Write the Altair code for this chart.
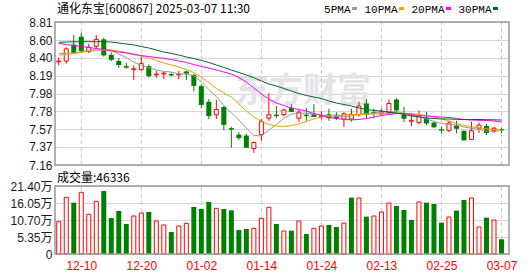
import altair as alt
import pandas as pd

# ---------------- data ----------------
stock_name = "通化东宝"
stock_code = "600867"
quote_time = "2025-03-07 11:30"
watermark = "东方财富"

dates = ["12-05", "12-06", "12-09", "12-10", "12-11", "12-12", "12-13", "12-16", "12-17", "12-18",
         "12-19", "12-20", "12-23", "12-24", "12-25", "12-26", "12-27", "12-30", "12-31", "01-02",
         "01-03", "01-06", "01-07", "01-08", "01-09", "01-10", "01-13", "01-14", "01-15", "01-16",
         "01-17", "01-20", "01-21", "01-22", "01-23", "01-24", "01-27", "02-05", "02-06", "02-07",
         "02-10", "02-11", "02-12", "02-13", "02-14", "02-17", "02-18", "02-19", "02-20", "02-21",
         "02-24", "02-25", "02-26", "02-27", "02-28", "03-03", "03-04", "03-05", "03-06", "03-07"]

opens = [8.35, 8.36, 8.55, 8.64, 8.47, 8.53, 8.61, 8.43, 8.36, 8.30,
         8.26, 8.26, 8.30, 8.20, 8.21, 8.21, 8.20, 8.24, 8.20, 8.07,
         7.89, 7.74, 7.83, 7.585, 7.51, 7.50, 7.35, 7.51, 7.70, 7.74,
         7.74, 7.82, 7.70, 7.74, 7.745, 7.72, 7.745, 7.74, 7.69, 7.69,
         7.74, 7.87, 7.77, 7.75, 7.765, 7.915, 7.74, 7.665, 7.65, 7.70,
         7.65, 7.57, 7.56, 7.615, 7.555, 7.455, 7.585, 7.61, 7.555, 7.57]
highs = [8.40, 8.52, 8.66, 8.69, 8.56, 8.66, 8.63, 8.46, 8.39, 8.34,
         8.31, 8.41, 8.32, 8.245, 8.24, 8.23, 8.245, 8.25, 8.21, 8.09,
         7.92, 7.91, 7.84, 7.60, 7.54, 7.52, 7.43, 7.69, 7.99, 7.84,
         7.81, 7.86, 7.81, 7.82, 7.86, 7.78, 7.81, 7.77, 7.77, 7.81,
         7.89, 7.92, 7.81, 7.81, 7.915, 7.93, 7.83, 7.76, 7.79, 7.775,
         7.66, 7.60, 7.67, 7.67, 7.56, 7.66, 7.65, 7.635, 7.60, 7.59]
lows = [8.31, 8.33, 8.44, 8.46, 8.45, 8.50, 8.41, 8.36, 8.28, 8.27,
        8.14, 8.25, 8.17, 8.165, 8.15, 8.18, 8.15, 8.14, 8.01, 7.82,
        7.69, 7.69, 7.56, 7.36, 7.45, 7.36, 7.30, 7.44, 7.67, 7.70,
        7.72, 7.77, 7.655, 7.67, 7.71, 7.69, 7.67, 7.68, 7.60, 7.66,
        7.72, 7.70, 7.70, 7.74, 7.75, 7.755, 7.655, 7.61, 7.63, 7.62,
        7.59, 7.525, 7.54, 7.525, 7.44, 7.45, 7.53, 7.505, 7.53, 7.53]
closes = [8.36, 8.50, 8.46, 8.48, 8.52, 8.61, 8.43, 8.38, 8.32, 8.29,
          8.27, 8.33, 8.19, 8.21, 8.22, 8.20, 8.21, 8.22, 8.08, 7.86,
          7.73, 7.80, 7.63, 7.575, 7.475, 7.365, 7.42, 7.66, 7.74, 7.73,
          7.795, 7.78, 7.77, 7.73, 7.72, 7.73, 7.705, 7.70, 7.75, 7.745,
          7.84, 7.745, 7.765, 7.775, 7.87, 7.795, 7.70, 7.675, 7.725, 7.645,
          7.60, 7.563, 7.645, 7.585, 7.45, 7.555, 7.62, 7.535, 7.585, 7.565]

# volume in 万 shares
vols = [10.17, 17.84, 16.15, 19.41, 12.5, 16.57, 19.83, 11.33, 13.53, 9.44,
        11.96, 12.9, 13.22, 10.39, 9.13, 6.92, 8.81, 9.65, 14.79, 14.16,
        16.36, 14.37, 14.16, 13.74, 7.55, 7.87, 8.08, 11.22, 14.7, 9.44,
        7.24, 7.34, 10.39, 6.29, 8.08, 8.81, 9.13, 8.5, 9.76, 17.73,
        17.62, 11.75, 11.96, 13.22, 16.05, 15.11, 13.85, 10.7, 16.36, 16.15,
        15.74, 9.86, 11.64, 13.64, 17.0, 17.62, 8.5, 11.43, 10.7, 4.6336]
# 1 = volume bar drawn as a rise (red), 0 = fall (green)
vol_rise = [1, 1, 0, 1, 1, 1, 0, 0, 0, 0,
            1, 1, 0, 1, 1, 0, 1, 1, 0, 0,
            0, 1, 0, 0, 0, 0, 1, 1, 1, 0,
            1, 0, 1, 0, 1, 1, 0, 0, 1, 0,
            1, 0, 1, 1, 1, 0, 0, 0, 1, 0,
            0, 0, 1, 0, 0, 1, 1, 0, 1, 0]

ma5 = [8.449, 8.449, 8.452, 8.464, 8.487, 8.487, 8.487, 8.485, 8.44, 8.40,
       8.345, 8.31, 8.28, 8.256, 8.24, 8.233, 8.21, 8.21, 8.19, 8.12,
       8.03, 7.95, 7.85, 7.76, 7.68, 7.585, 7.50, 7.495, 7.564, 7.627,
       7.697, 7.748, 7.757, 7.757, 7.748, 7.737, 7.731, 7.72, 7.72, 7.725,
       7.743, 7.754, 7.76, 7.766, 7.775, 7.775, 7.76, 7.737, 7.72, 7.691,
       7.662, 7.639, 7.627, 7.622, 7.598, 7.583, 7.57, 7.552, 7.547, 7.558]
ma10 = [8.429, 8.435, 8.447, 8.458, 8.475, 8.487, 8.487, 8.487, 8.475, 8.458,
        8.441, 8.418, 8.395, 8.366, 8.337, 8.314, 8.291, 8.262, 8.227, 8.175,
        8.112, 8.043, 7.991, 7.945, 7.864, 7.783, 7.714, 7.662, 7.627, 7.61,
        7.604, 7.616, 7.633, 7.662, 7.691, 7.714, 7.722, 7.731, 7.737, 7.74,
        7.743, 7.746, 7.748, 7.751, 7.754, 7.757, 7.757, 7.754, 7.743, 7.731,
        7.714, 7.697, 7.668, 7.639, 7.616, 7.598, 7.587, 7.578, 7.57, 7.564]
ma20 = [8.564, 8.55, 8.539, 8.527, 8.516, 8.504, 8.493, 8.475, 8.464, 8.452,
        8.435, 8.423, 8.412, 8.40, 8.391, 8.377, 8.36, 8.343, 8.32, 8.297,
        8.279, 8.256, 8.233, 8.21, 8.17, 8.118, 8.048, 7.979, 7.921, 7.875,
        7.847, 7.818, 7.80, 7.783, 7.754, 7.731, 7.708, 7.697, 7.685, 7.681,
        7.685, 7.697, 7.714, 7.731, 7.743, 7.754, 7.754, 7.743, 7.731, 7.725,
        7.72, 7.714, 7.708, 7.697, 7.685, 7.679, 7.676, 7.673, 7.668, 7.656]
ma30 = [8.576, 8.579, 8.581, 8.583, 8.583, 8.583, 8.583, 8.579, 8.568, 8.556,
        8.545, 8.527, 8.51, 8.487, 8.464, 8.447, 8.429, 8.406, 8.389, 8.366,
        8.343, 8.314, 8.285, 8.256, 8.227, 8.198, 8.167, 8.129, 8.095, 8.072,
        8.043, 8.014, 7.985, 7.962, 7.945, 7.927, 7.898, 7.875, 7.858, 7.841,
        7.818, 7.80, 7.789, 7.783, 7.771, 7.76, 7.743, 7.725, 7.714, 7.702,
        7.697, 7.691, 7.691, 7.687, 7.685, 7.685, 7.685, 7.683, 7.681, 7.679]

ma_names = ["5PMA", "10PMA", "20PMA", "30PMA"]
price_ticks = [7.16, 7.37, 7.57, 7.78, 7.98, 8.19, 8.40, 8.60, 8.81]
vol_ticks = [0, 5.35, 10.70, 16.05, 21.40]
x_labels = ["12-10", "12-20", "01-02", "01-14", "01-24", "02-13", "02-25", "03-07"]

# ---------------- styling / layout ----------------
RED, GREEN = "#ff0000", "#008000"
MA_COLORS = ["#9a9a9a", "#f0a000", "#ff00ff", "#006633"]
W, H = 454, 232
PRICE_H = 143
VOL_TOP, VOL_BOT = 164, 232
n = len(dates)
X_MIN, X_MAX = -0.5, float(n)
HALF_DOWN, HALF_UP = 0.333, 0.267
FRAME = "#999999"

df = pd.DataFrame({
    "i": list(range(n)), "date": dates, "open": opens, "high": highs, "low": lows,
    "close": closes, "vol": vols, "rise": vol_rise,
    "ma5": ma5, "ma10": ma10, "ma20": ma20, "ma30": ma30,
})
df["zero"] = 0.0

label_pos = [dates.index(d) for d in x_labels]
date_expr = "[" + ",".join("'%s'" % d for d in dates) + "][datum.value]"

xscale = alt.Scale(domain=[X_MIN, X_MAX], nice=False, zero=False)
xaxis = alt.Axis(values=label_pos, labelExpr=date_expr, grid=False, ticks=False, tickSize=0,
                 domain=False, labelColor=RED, labelFont="Liberation Sans", labelFontSize=12,
                 labelPadding=6, title=None, orient="bottom", labelOverlap=False, labelFlush=False)

pscale = alt.Scale(domain=[price_ticks[0], price_ticks[-1]], range=[PRICE_H, 0], nice=False, zero=False)
paxis = alt.Axis(values=price_ticks, format=".2f", orient="left", grid=True, gridColor="#d6d6d6",
                 gridWidth=1, ticks=False, tickSize=0, domain=False, labelFont="Liberation Sans",
                 labelFontSize=12, labelColor="#1a1a1a", labelPadding=3, title=None,
                 labelOverlap=False, labelFlush=False)

vscale = alt.Scale(domain=[vol_ticks[0], vol_ticks[-1]], range=[VOL_BOT, VOL_TOP], nice=False, zero=False)
vaxis = alt.Axis(values=vol_ticks, labelExpr="datum.value == 0 ? '0' : format(datum.value, '.2f') + '万'",
                 orient="left", grid=True, gridColor="#d6d6d6", gridWidth=1, ticks=False, tickSize=0,
                 domain=False, labelFont="Liberation Sans, Noto Sans CJK SC", labelFontSize=12,
                 labelColor="#1a1a1a", labelPadding=3, title=None, labelOverlap=False, labelFlush=False)


def X(f):
    return alt.X(f, type="quantitative", scale=xscale, axis=xaxis)


def YP(f):
    return alt.Y(f, type="quantitative", scale=pscale, axis=paxis)


def YV(f):
    return alt.Y(f, type="quantitative", scale=vscale, axis=vaxis)


base = alt.Chart(df)
grid_df = pd.DataFrame({"pos": label_pos, "plo": price_ticks[0], "phi": price_ticks[-1],
                        "vlo": vol_ticks[0], "vhi": vol_ticks[-1]})
frame_df = pd.DataFrame({"x0": [X_MIN], "x1": [X_MAX], "plo": [price_ticks[0]], "phi": [price_ticks[-1]],
                         "vlo": [vol_ticks[0]], "vhi": [vol_ticks[-1]]})

# ---------------- price panel ----------------
wm = alt.Chart(pd.DataFrame({"t": [watermark]})).mark_text(
    font="Noto Sans CJK SC", fontSize=34, fontWeight="bold", color="#e4e4e8",
    align="center", baseline="middle").encode(x=alt.value(248), y=alt.value(70), text="t:N")

p_vgrid = alt.Chart(grid_df).mark_rule(color="#c8c8c8", strokeDash=[4, 3], strokeWidth=1).encode(
    x=X("pos"), y=YP("plo"), y2="phi")

wicks = base.mark_rule(strokeWidth=1).encode(
    x=X("i"), y=YP("low"), y2="high",
    color=alt.condition("datum.close > datum.open", alt.value(RED), alt.value(GREEN)))

down_src = base.transform_filter("datum.close < datum.open").transform_calculate(
    xl="datum.i - %f" % HALF_DOWN, xr="datum.i + %f" % HALF_DOWN)
down_body = down_src.mark_rect(color=GREEN).encode(x=X("xl"), x2="xr", y=YP("open"), y2="close")
down_line = down_src.mark_rule(color=GREEN, strokeWidth=1).encode(x=X("xl"), x2="xr", y=YP("close"))

up_body = base.transform_filter("datum.close > datum.open").transform_calculate(
    xl="datum.i - %f" % HALF_UP, xr="datum.i + %f" % HALF_UP).mark_rect(
    fill="white", stroke=RED, strokeWidth=1).encode(x=X("xl"), x2="xr", y=YP("open"), y2="close")

ma_layers = [base.mark_line(color=c, strokeWidth=1).encode(x=X("i"), y=YP(f))
             for f, c in zip(["ma5", "ma10", "ma20", "ma30"], MA_COLORS)]

p_frame = alt.Chart(frame_df).mark_rect(fillOpacity=0, stroke=FRAME, strokeWidth=1.5).encode(
    x=X("x0"), x2="x1", y=YP("plo"), y2="phi")

# text annotations (title, MA legend, volume caption)
title_txt = alt.Chart(pd.DataFrame({"t": ["%s[%s] %s" % (stock_name, stock_code, quote_time)]})).mark_text(
    font="Noto Sans CJK SC", fontSize=12, color="#000000", align="left", baseline="alphabetic").encode(
    x=alt.value(2), y=alt.value(-9.5), text="t:N")

vol_txt = alt.Chart(pd.DataFrame({"t": ["成交量:%d" % round(vols[-1] * 10000)]})).mark_text(
    font="Noto Sans CJK SC", fontSize=12, color="#000000", align="left", baseline="alphabetic").encode(
    x=alt.value(2), y=alt.value(160), text="t:N")

legend_layers = []
lx = 271.0
for name, col in zip(ma_names, MA_COLORS):
    sw = lx + 6 * len(name) + 2
    legend_layers.append(alt.Chart(pd.DataFrame({"t": [name]})).mark_text(
        font="Liberation Mono", fontSize=11, color="#000000", align="right", baseline="alphabetic").encode(
        x=alt.value(sw - 1.5), y=alt.value(-9.5), text="t:N"))
    legend_layers.append(alt.Chart(pd.DataFrame({"t": [name]})).mark_rect(color=col).encode(
        x=alt.value(sw), x2=alt.value(sw + 5), y=alt.value(-15), y2=alt.value(-12)))
    lx = sw + 15

price = alt.layer(wm, p_vgrid, wicks, down_body, down_line, up_body, *ma_layers, p_frame,
                  title_txt, vol_txt, *legend_layers)

# ---------------- volume panel ----------------
v_vgrid = alt.Chart(grid_df).mark_rule(color="#c8c8c8", strokeDash=[4, 3], strokeWidth=1).encode(
    x=X("pos"), y=YV("vlo"), y2="vhi")

vdown = base.transform_filter("datum.rise == 0").transform_calculate(
    xl="datum.i - %f" % HALF_DOWN, xr="datum.i + %f" % HALF_DOWN).mark_rect(color=GREEN).encode(
    x=X("xl"), x2="xr", y=YV("zero"), y2="vol")
vup = base.transform_filter("datum.rise == 1").transform_calculate(
    xl="datum.i - %f" % HALF_UP, xr="datum.i + %f" % HALF_UP).mark_rect(
    fill="white", stroke=RED, strokeWidth=1).encode(x=X("xl"), x2="xr", y=YV("zero"), y2="vol")

v_frame = alt.Chart(frame_df).mark_rect(fillOpacity=0, stroke=FRAME, strokeWidth=1.5).encode(
    x=X("x0"), x2="x1", y=YV("vlo"), y2="vhi")

volume = alt.layer(v_vgrid, vdown, vup, v_frame)

chart = alt.layer(price, volume).resolve_scale(y="independent").properties(
    width=W, height=H,
    autosize=alt.AutoSizeParams(type="none"),
    padding={"left": 55, "top": 22, "right": 530 - 55 - W, "bottom": 276 - 22 - H},
    background="white",
).configure_view(strokeWidth=0)

chart.save("out.html", embed_options={"renderer": "svg", "actions": False})
